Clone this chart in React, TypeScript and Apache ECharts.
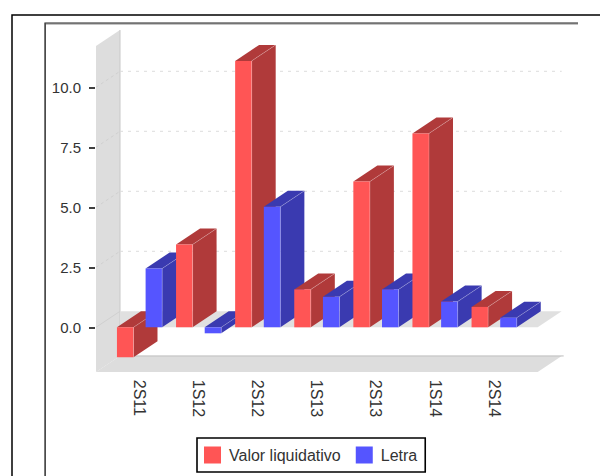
import React, { useEffect, useRef } from "react";
import * as echarts from "echarts";

const categories = ["2S11", "1S12", "2S12", "1S13", "2S13", "1S14", "2S14"];
const valorLiquidativo = [-1.25, 3.45, 11.1, 1.58, 6.07, 8.08, 0.85];
const letra = [2.45, -0.25, 5.02, 1.27, 1.58, 1.07, 0.4];
const tickValues = [0, 2.5, 5, 7.5, 10];
const gridValues = [2.5, 5, 7.5, 10];

const DX = 24;
const DY = -16;
const AXIS_FLOOR = -1.86;
const AXIS_CEIL = 11.72;
const FONT = "'Liberation Sans', Arial, sans-serif";

function bars(seriesIndex: number, front: string, dark: string) {
  const sign = seriesIndex === 0 ? -1 : 1;
  return (params: any, api: any) => {
    const cat = api.value(0);
    const val = api.value(1);
    const band = api.size([1, 0])[0];
    const center = api.coord([cat, 0])[0] + sign * band * 0.2425;
    const w = band * 0.28;
    const x0 = center - w / 2;
    const x1 = center + w / 2;
    const y0 = api.coord([cat, 0])[1];
    const yv = api.coord([cat, val])[1];
    const top = Math.min(y0, yv);
    const bottom = Math.max(y0, yv);
    const z2 = (cat * 2 + seriesIndex) * 10 + 1;
    const edge = { stroke: "rgba(255,255,255,0.32)", lineWidth: 0.7 };
    return {
      type: "group",
      children: [
        {
          type: "polygon",
          z2,
          shape: { points: [[x1, top], [x1 + DX, top + DY], [x1 + DX, bottom + DY], [x1, bottom]] },
          style: { fill: dark },
        },
        {
          type: "polygon",
          z2,
          shape: { points: [[x0, top], [x0 + DX, top + DY], [x1 + DX, top + DY], [x1, top]] },
          style: { fill: dark },
        },
        {
          type: "rect",
          z2: z2 + 1,
          shape: { x: x0, y: top, width: w, height: bottom - top },
          style: { fill: front },
        },
        {
          type: "line",
          z2: z2 + 2,
          shape: { x1, y1: top, x2: x1 + DX, y2: top + DY },
          style: edge,
        },
        {
          type: "line",
          z2: z2 + 2,
          shape: { x1, y1: top, x2: x1, y2: bottom },
          style: edge,
        },
      ],
    };
  };
}

function scene(params: any, api: any) {
  const cs = params.coordSys;
  const left = cs.x - 14;
  const right = cs.x + cs.width + 14;
  const yTop = api.coord([0, AXIS_CEIL])[1];
  const yBottom = api.coord([0, AXIS_FLOOR])[1];
  const yZero = api.coord([0, 0])[1];
  const wall = "#dddddd";
  const children: any[] = [
    {
      type: "polygon",
      shape: { points: [[left, yTop], [left + DX, yTop + DY], [left + DX, yBottom + DY], [left, yBottom]] },
      style: { fill: wall },
    },
    {
      type: "polygon",
      shape: { points: [[left, yBottom], [left + DX, yBottom + DY], [right + DX, yBottom + DY], [right, yBottom]] },
      style: { fill: wall },
    },
    {
      type: "line",
      shape: { x1: left + DX, y1: yTop + DY, x2: left + DX, y2: yBottom + DY },
      style: { stroke: "#c8c8c8", lineWidth: 1 },
    },
    {
      type: "line",
      shape: { x1: left + DX, y1: yBottom + DY, x2: right + DX + 2, y2: yBottom + DY },
      style: { stroke: "#bdbdbd", lineWidth: 1 },
    },
    {
      type: "polygon",
      shape: { points: [[left + DX, yZero + DY], [right + DX, yZero + DY], [right, yZero], [left + DX, yZero]] },
      style: { fill: "#e0e0e0" },
    },
    {
      type: "line",
      shape: { x1: left, y1: yZero, x2: left + DX, y2: yZero + DY },
      style: { stroke: "#d0d0d0", lineWidth: 1 },
    },
  ];
  gridValues.forEach((v) => {
    const y = api.coord([0, v])[1];
    children.push({
      type: "line",
      shape: { x1: left + DX, y1: y + DY, x2: right + DX, y2: y + DY },
      style: { stroke: "#dcdcdc", lineWidth: 1, lineDash: [3, 5] },
    });
    children.push({
      type: "line",
      shape: { x1: left, y1: y, x2: left + DX, y2: y + DY },
      style: { stroke: "#d0d0d0", lineWidth: 1, lineDash: [3, 3] },
    });
  });
  return { type: "group", children };
}

export default function App() {
  const ref = useRef<HTMLDivElement>(null);
  useEffect(() => {
    const chart = echarts.init(ref.current!, undefined, { renderer: "svg", width: 600, height: 476 });
    chart.setOption({
      animation: false,
      backgroundColor: "#ffffff",
      textStyle: { fontFamily: FONT },
      grid: { left: 110, top: 27.3, width: 413.7, height: 360 },
      graphic: [
        { type: "polyline", shape: { points: [[12, 480], [12, 15], [600, 15]] }, style: { stroke: "#000", lineWidth: 1.5, fill: "none" } },
        { type: "polyline", shape: { points: [[45.5, 480], [45.5, 24], [578, 24]] }, style: { stroke: "#8a8a8a", lineWidth: 1, fill: "none" } },
        { type: "polyline", shape: { points: [[45, 480], [45, 23], [578, 23]] }, style: { stroke: "#222", lineWidth: 1.2, fill: "none" } },
      ],
      legend: {
        data: ["Valor liquidativo", "Letra"],
        left: 197,
        top: 438,
        orient: "horizontal",
        icon: "rect",
        itemWidth: 17,
        itemHeight: 17,
        itemGap: 15,
        padding: [8.5, 8, 8.5, 7],
        borderColor: "#000",
        borderWidth: 1.6,
        selectedMode: false,
        textStyle: { color: "#333", fontSize: 16, fontFamily: FONT, padding: [0, 0, 0, 3] },
      },
      xAxis: {
        type: "category",
        data: categories,
        position: "bottom",
        offset: -7.5,
        axisLine: { show: false, onZero: false },
        axisTick: { show: false },
        axisLabel: { interval: 0, rotate: -90, margin: 0, color: "#333", fontSize: 16, fontFamily: FONT, padding: [0, 0, 3, 0] },
      },
      yAxis: {
        type: "value",
        min: -2.5,
        max: 12.5,
        interval: 2.5,
        offset: 15,
        splitLine: { show: false },
        axisLine: { show: false },
        axisTick: { show: true, length: 6, customValues: tickValues, lineStyle: { color: "#000", width: 1.5 } },
        axisLabel: {
          margin: 14,
          color: "#333",
          fontSize: 15,
          fontFamily: FONT,
          customValues: tickValues,
          formatter: (v: number) => v.toFixed(1),
        },
      },
      series: [
        {
          type: "custom",
          name: "scene",
          z: 1,
          silent: true,
          renderItem: scene,
          data: [[0, 0]],
          encode: { x: 0, y: 1 },
        },
        {
          type: "custom",
          name: "Valor liquidativo",
          z: 2,
          itemStyle: { color: "#ff5555" },
          renderItem: bars(0, "#ff5555", "#b03a3a"),
          data: valorLiquidativo.map((v, i) => [i, v]),
          encode: { x: 0, y: 1 },
        },
        {
          type: "custom",
          name: "Letra",
          z: 2,
          itemStyle: { color: "#5555ff" },
          renderItem: bars(1, "#5555ff", "#3a3ab0"),
          data: letra.map((v, i) => [i, v]),
          encode: { x: 0, y: 1 },
        },
      ],
    });
    return () => chart.dispose();
  }, []);
  return <div ref={ref} style={{ position: "fixed", left: 0, top: 0, width: 600, height: 476 }} />;
}
